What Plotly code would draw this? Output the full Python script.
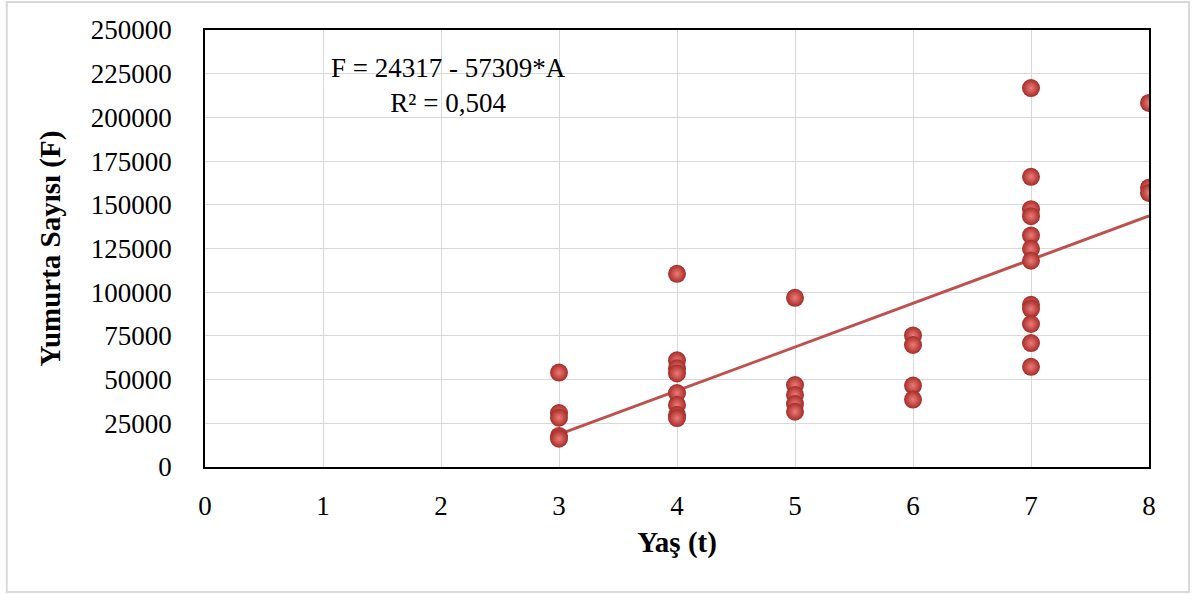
import numpy as np
import plotly.graph_objects as go

# Age (t) values
age = [3, 3, 3, 3, 3,
       4, 4, 4, 4, 4, 4, 4, 4,
       5, 5, 5, 5, 5,
       6, 6, 6, 6,
       7, 7, 7, 7, 7, 7, 7, 7, 7, 7, 7, 7,
       8, 8, 8]
# Egg count (F)
eggs = [54000, 30900, 28200, 17800, 16200,
        110500, 61000, 56500, 53500, 42300, 35500, 29800, 28000,
        96800, 46900, 41200, 36000, 31600,
        75300, 69800, 46600, 38600,
        216800, 166000, 147500, 143500, 132500, 124800, 118000, 92800, 90500, 81800, 70900, 57300,
        208300, 159800, 156800]

x_ticks = [0, 1, 2, 3, 4, 5, 6, 7, 8]
y_ticks = [0, 25000, 50000, 75000, 100000, 125000, 150000, 175000, 200000, 225000, 250000]

slope, intercept = np.polyfit(age, eggs, 1)
fit_x = np.array([min(age), max(age)])
fit_y = slope * fit_x + intercept

font_family = "Liberation Serif, Times New Roman, serif"

fig = go.Figure()
fig.add_trace(go.Scatter(
    x=fit_x, y=fit_y, mode="lines",
    line=dict(color="#C0504D", width=3),
    hoverinfo="skip", showlegend=False,
))
fig.add_trace(go.Scatter(
    x=age, y=eggs, mode="markers",
    marker=dict(size=18, color="#A42C29",
                gradient=dict(type="radial", color="#EE7A76"),
                line=dict(width=0)),
    showlegend=False,
))

fig.add_annotation(
    x=2.06, y=218000, xref="x", yref="y",
    text="F = 24317 - 57309*A<br>R² = 0,504",
    showarrow=False, align="center",
    font=dict(family=font_family, size=27, color="black"),
)

# outer chart frame
fig.add_shape(type="rect", xref="paper", yref="paper",
              x0=-0.210, x1=1.0424, y0=-0.286, y1=1.064,
              line=dict(color="#D9D9D9", width=2), fillcolor="rgba(0,0,0,0)",
              layer="below")

fig.update_layout(
    width=1203, height=594,
    margin=dict(l=205, r=54, t=30, b=127),
    paper_bgcolor="white", plot_bgcolor="white",
    font=dict(family=font_family, size=27, color="black"),
    xaxis=dict(
        range=[0, 8], tickvals=x_ticks, ticktext=[str(v) for v in x_ticks],
        showgrid=True, gridcolor="#D9D9D9", gridwidth=1,
        showline=True, linecolor="black", linewidth=1.5, mirror=True,
        zeroline=False, ticks="", ticklen=0, ticklabelstandoff=14,
        title=dict(text="<b>Yaş (t)</b>", font=dict(size=29), standoff=12),
        tickfont=dict(size=27),
    ),
    yaxis=dict(
        range=[0, 250000], tickvals=y_ticks, ticktext=[str(v) for v in y_ticks],
        showgrid=True, gridcolor="#D9D9D9", gridwidth=1,
        showline=True, linecolor="black", linewidth=1.5, mirror=True,
        zeroline=False, ticks="", ticklen=0, ticklabelstandoff=26,
        title=dict(text="<b>Yumurta Sayısı (F)</b>", font=dict(size=29), standoff=22),
        tickfont=dict(size=27),
    ),
)

fig.write_html("out.html")
